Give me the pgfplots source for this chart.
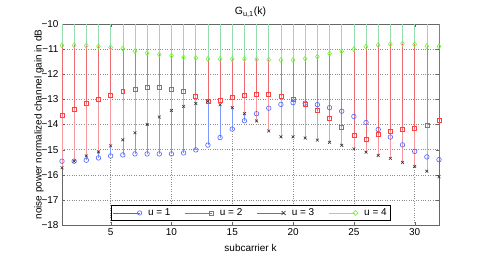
\documentclass[border=0pt]{standalone}
\usepackage{pgfplots}
\pgfplotsset{compat=1.18}
\usepackage{pgfplotstable}
\usepackage{fontspec}
\setmainfont{Liberation Sans}
\definecolor{stemblue}{rgb}{0.50,0.60,1.00}
\definecolor{stemred}{rgb}{0.92,0.42,0.44}
\definecolor{stempink}{rgb}{0.96,0.60,0.62}
\definecolor{stemgreen}{rgb}{0.58,0.86,0.68}
\definecolor{mblue}{rgb}{0.30,0.38,1.00}
\definecolor{mred}{rgb}{1.00,0.25,0.25}
\definecolor{mblack}{rgb}{0.20,0.20,0.20}
\definecolor{mgreen}{rgb}{0.45,0.95,0.20}
\definecolor{leggreen}{rgb}{0.20,0.70,0.20}
\definecolor{legred}{rgb}{0.95,0.25,0.25}
\definecolor{legmint}{rgb}{0.40,0.95,0.65}
\definecolor{axgray}{rgb}{0.40,0.40,0.40}
\definecolor{gridgray}{rgb}{0.55,0.55,0.55}
\pgfplotstableread{
k u1 u2 u3 u4
1 -15.46 -13.65 -15.72 -10.85
2 -15.46 -13.39 -15.46 -10.85
3 -15.42 -13.17 -15.25 -10.86
4 -15.33 -12.99 -15.09 -10.89
5 -15.25 -12.83 -14.85 -10.93
6 -15.21 -12.68 -14.61 -10.98
7 -15.17 -12.58 -14.33 -11.08
8 -15.17 -12.52 -14.00 -11.16
9 -15.17 -12.52 -13.70 -11.21
10 -15.17 -12.58 -13.44 -11.26
11 -15.13 -12.68 -13.28 -11.33
12 -15.01 -12.86 -13.16 -11.35
13 -14.82 -13.09 -13.08 -11.39
14 -14.52 -13.03 -13.21 -11.39
15 -14.18 -12.92 -13.33 -11.39
16 -13.85 -12.82 -13.57 -11.39
17 -13.57 -12.78 -13.86 -11.41
18 -13.35 -12.78 -14.26 -11.42
19 -13.20 -12.87 -14.49 -11.43
20 -13.13 -13.00 -14.49 -11.43
21 -13.15 -13.21 -14.54 -11.38
22 -13.21 -13.45 -14.62 -11.30
23 -13.33 -13.77 -14.71 -11.18
24 -13.47 -14.10 -14.83 -11.09
25 -13.68 -14.42 -14.97 -11.00
26 -13.92 -14.58 -15.10 -10.90
27 -14.20 -14.40 -15.23 -10.84
28 -14.50 -14.26 -15.35 -10.80
29 -14.81 -14.20 -15.51 -10.78
30 -15.07 -14.16 -15.67 -10.81
31 -15.29 -14.02 -15.86 -10.88
32 -15.40 -13.82 -16.08 -10.89
}\datatable
\begin{document}
\begin{tikzpicture}
\begin{axis}[
  scale only axis,
  width=377bp, height=201bp,
  xmin=1, xmax=32, ymin=-18, ymax=-10,
  xtick={5,10,15,20,25,30},
  ytick={-18,-17,-16,-15,-14,-13,-12,-11,-10},
  yticklabels={−18,−17,−16,−15,−14,−13,−12,−11,−10},
  /pgf/number format/assume math mode=true,
  tick label style={font=\fontsize{10}{12}\selectfont},
  label style={font=\fontsize{10}{12}\selectfont},
  title style={font=\fontsize{10.5}{12}\selectfont, yshift=-3pt},
  title={G\textsubscript{u,1}(k)},
  xlabel={subcarrier k},
  ylabel={noise power normalized channel gain in dB},
  xlabel style={yshift=-2pt},
  ylabel style={yshift=-9pt},
  grid=major,
  major grid style={dotted, draw=gridgray, line width=0.5pt},
  tick align=inside,
  major tick length=3pt,
  axis line style={draw=axgray, line width=0.7pt},
  tick style={draw=axgray},
  legend columns=4,
  legend style={at={(0.5,0.02)}, anchor=south, draw=black, line width=0.6pt,
    font=\fontsize{10}{12}\selectfont, inner sep=1.5pt,
    /tikz/every even column/.append style={column sep=12pt},
    /tikz/every odd column/.append style={column sep=4pt}},
  legend cell align=left,
]
\addplot[ycomb, draw=stemblue, line width=0.6pt, forget plot] table[x=k, y=u1] {\datatable};
\addplot[ycomb, draw=stempink, line width=0.6pt, forget plot] table[x=k, y=u3] {\datatable};
\addplot[ycomb, draw=stemred, line width=0.6pt, forget plot] table[x=k, y=u2] {\datatable};
\addplot[ycomb, draw=stemgreen, line width=0.6pt, forget plot] table[x=k, y=u4] {\datatable};
\addplot[scatter, only marks, point meta=x, mark=o, mark size=2.3pt,
  scatter/use mapped color={draw=mblue, fill=none, line width=0.6pt}, forget plot] table[x=k, y=u1] {\datatable};
\addplot[scatter, only marks, point meta=x, mark=square, mark size=2pt,
  scatter/use mapped color={draw=mred, fill=none, line width=0.6pt}, forget plot] table[x=k, y=u2] {\datatable};
\addplot[scatter, only marks, point meta=x, mark=x, mark size=2pt,
  scatter/use mapped color={draw=mblack, fill=none, line width=0.6pt}, forget plot] table[x=k, y=u3] {\datatable};
\addplot[scatter, only marks, point meta=x, mark=diamond, mark size=2.5pt,
  scatter/use mapped color={draw=mgreen, fill=none, line width=0.6pt}, forget plot] table[x=k, y=u4] {\datatable};
\addlegendimage{legend image code/.code={\draw[draw=mblue, line width=0.6pt] (0,0)--(0.95cm,0); \draw[draw=mblue, line width=0.6pt] (0.95cm,0) circle (2.2pt);}}
\addlegendentry{u = 1}
\addlegendimage{legend image code/.code={\draw[draw=leggreen, line width=0.6pt] (0,0)--(0.95cm,0); \draw[draw=mred, line width=0.6pt] (0.95cm,0) +(-2pt,-2pt) rectangle +(2pt,2pt);}}
\addlegendentry{u = 2}
\addlegendimage{legend image code/.code={\draw[draw=legred, line width=0.6pt] (0,0)--(0.95cm,0); \draw[draw=mblack, line width=0.6pt] (0.95cm,0) +(-2pt,-2pt)--+(2pt,2pt) +(-2pt,2pt)--+(2pt,-2pt);}}
\addlegendentry{u = 3}
\addlegendimage{legend image code/.code={\draw[draw=legmint, line width=0.6pt] (0,0)--(0.95cm,0); \draw[draw=mgreen, line width=0.6pt] (0.95cm,0) +(0,2.5pt)--+(2.5pt,0)--+(0,-2.5pt)--+(-2.5pt,0)--cycle;}}
\addlegendentry{u = 4}
\coordinate (SW) at (rel axis cs:0,0);
\end{axis}
\pgfresetboundingbox
\path (SW) ++(-62bp,-31bp) rectangle ++(485bp,256bp);
\end{tikzpicture}
\end{document}
